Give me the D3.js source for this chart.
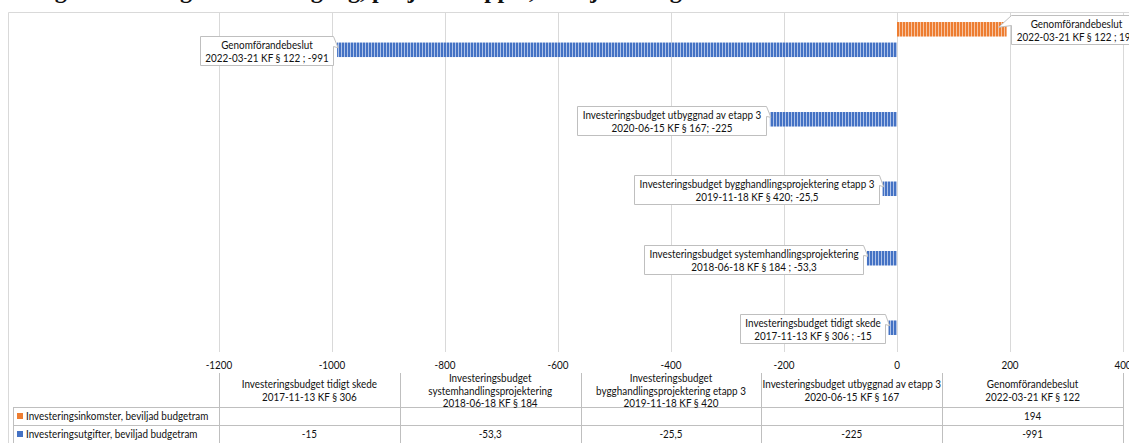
<!DOCTYPE html>
<html><head><meta charset="utf-8">
<script src="https://cdn.jsdelivr.net/npm/d3@7"></script>
<style>
html,body{margin:0;padding:0;background:#fff;}
svg{display:block;}
text{font-family:"Lato","Open Sans",sans-serif;fill:#111;}
</style></head>
<body>
<svg id="chart" width="1129" height="443"></svg>
<script>
// ---- data ----
const categories = ["tidigt", "system", "bygg", "utbyggnad", "genomforande"];
const headerLines = [
  ["Investeringsbudget tidigt skede", "2017-11-13 KF § 306"],
  ["Investeringsbudget", "systemhandlingsprojektering", "2018-06-18 KF § 184"],
  ["Investeringsbudget", "bygghandlingsprojektering etapp 3", "2019-11-18 KF § 420"],
  ["Investeringsbudget utbyggnad av etapp 3", "2020-06-15 KF § 167"],
  ["Genomförandebeslut", "2022-03-21 KF § 122"]
];
const labelNames = [
  "Investeringsbudget tidigt skede",
  "Investeringsbudget systemhandlingsprojektering",
  "Investeringsbudget bygghandlingsprojektering etapp 3",
  "Investeringsbudget utbyggnad av etapp 3",
  "Genomförandebeslut"
];
const labelDates = ["2017-11-13 KF § 306", "2018-06-18 KF § 184", "2019-11-18 KF § 420", "2020-06-15 KF § 167", "2022-03-21 KF § 122"];
const labelSeparators = [" ; ", " ; ", "; ", "; ", " ; "];
const seriesNames = ["Investeringsinkomster, beviljad budgetram", "Investeringsutgifter, beviljad budgetram"];
const inkomster = [null, null, null, null, 194];
const utgifter = [-15, -53.3, -25.5, -225, -991];
const xTicks = [-1200, -1000, -800, -600, -400, -200, 0, 200, 400];
const seriesColors = ["#ED7D31", "#4472C4"];
const seriesLight = ["#f7c3a0", "#aec2e8"];
const titleText = "Budgetutveckling och beslutsgång, projekt etapp 3, beviljad budgetram";

// ---- setup ----
const svg = d3.select("#chart");
const W = 1129, H = 443;
const loc = d3.formatLocale({decimal: ",", thousands: "", grouping: [3], currency: ["", ""], minus: "-"});
const fmt = loc.format("~g");
const FS = 11.5, SX = 0.86;

function addText(g, tx, ty, str, anchor) {
  return g.append("text").attr("transform", `translate(${tx},${ty}) scale(${SX},1)`)
    .attr("text-anchor", anchor || "start").attr("font-size", FS).text(str);
}

const plotTop = 13, plotBottom = 352;
const x = d3.scaleLinear().domain([-1200, 400]).range([219, 1123]);
const y = d3.scaleBand().domain(categories.slice().reverse()).range([5, 352]).paddingInner(0.496).paddingOuter(0.245);
const ySub = d3.scaleBand().domain([0, 1]).range([0, y.bandwidth()]).paddingInner(0.293);

// patterns
const defs = svg.append("defs");
seriesColors.forEach((c, i) => {
  const p = defs.append("pattern").attr("id", "pat" + i).attr("patternUnits", "userSpaceOnUse")
    .attr("width", 3).attr("height", 4);
  p.append("rect").attr("width", 3).attr("height", 4).attr("fill", c);
  p.append("rect").attr("x", 2).attr("width", 1).attr("height", 4).attr("fill", seriesLight[i]);
});

// title (cut off at top in the reference)
svg.append("text").attr("x", 12).attr("y", -2).attr("font-size", 24).attr("font-weight", "bold")
  .style("font-family", "Liberation Serif, serif").text(titleText);

// chart frame
svg.append("path").attr("d", `M8.5,${H} V12.5 H${W}`).attr("fill", "none").attr("stroke", "#d9d9d9");

// gridlines
svg.append("g").selectAll("line").data(xTicks).join("line")
  .attr("x1", d => Math.round(x(d)) + 0.5).attr("x2", d => Math.round(x(d)) + 0.5)
  .attr("y1", plotTop).attr("y2", plotBottom).attr("stroke", "#d9d9d9");

// tick labels
const tickG = svg.append("g");
xTicks.forEach(d => addText(tickG, x(d), 369, fmt(d), "middle"));

// bars
const series = [inkomster, utgifter];
const barData = [];
series.forEach((vals, si) => vals.forEach((v, ci) => {
  if (v === null) return;
  barData.push({si, ci, v, cat: categories[ci]});
}));
svg.append("g").selectAll("rect").data(barData).join("rect")
  .attr("x", d => x(Math.min(0, d.v))).attr("width", d => Math.abs(x(d.v) - x(0)))
  .attr("y", d => y(d.cat) + ySub(d.si)).attr("height", ySub.bandwidth())
  .attr("fill", d => `url(#pat${d.si})`);

// callout labels
const lg = svg.append("g");
barData.forEach(d => {
  const xe = x(d.v);
  const yc = y(d.cat) + ySub(d.si) + ySub.bandwidth() / 2;
  const g = lg.append("g");
  const path = g.append("path").attr("fill", "#fff").attr("stroke", "#bfbfbf");
  const s1 = labelNames[d.ci];
  const s2 = labelDates[d.ci] + labelSeparators[d.ci] + fmt(d.v);
  const probe1 = addText(g, 0, 0, s1, "middle"), probe2 = addText(g, 0, 0, s2, "middle");
  const tw = Math.max(probe1.node().getComputedTextLength(), probe2.node().getComputedTextLength()) * SX;
  probe1.remove(); probe2.remove();
  const bw = Math.round(tw + 10), bh = 29;
  const top = Math.round(yc - bh / 2 + (d.si === 1 ? 1 : 0)) + 0.5;
  let left, right;
  if (d.v < 0) {
    right = Math.round(xe - 4) + 0.5; left = right - bw;
    path.attr("d", `M${left},${top} H${right} L${xe + 1},${yc - 2} L${right},${top + 10} V${top + bh} H${left} Z`);
  } else {
    left = Math.round(xe + 4) + 0.5; right = left + bw;
    path.attr("d", `M${left},${top} H${right} V${top + bh} H${left} V${top + 10} L${xe - 8},${yc - 2} Z`);
  }
  const cx = (left + right) / 2;
  addText(g, cx, top + 12, s1, "middle");
  addText(g, cx, top + 25, s2, "middle");
});

// data table
const tx = d3.scaleBand().domain(categories).range([219, 1123]);
const hTop = 373, r1 = 407, r2 = 425, r3 = 443;
const tg = svg.append("g");
const gridStroke = "#bfbfbf";
[r1, r2, r3].forEach(yy => tg.append("line").attr("x1", 13).attr("x2", 1123).attr("y1", yy + 0.5).attr("y2", yy + 0.5).attr("stroke", gridStroke));
const colEdges = categories.map(c => tx(c)).concat([tx.range()[1]]);
tg.selectAll("line.v").data(colEdges).join("line").attr("class", "v")
  .attr("x1", d => Math.round(d) + 0.5).attr("x2", d => Math.round(d) + 0.5)
  .attr("y1", hTop).attr("y2", r3).attr("stroke", gridStroke);
tg.append("line").attr("x1", 13.5).attr("x2", 13.5).attr("y1", r1).attr("y2", r3).attr("stroke", gridStroke);

// header text
categories.forEach((c, i) => {
  const lines = headerLines[i];
  const cx = tx(c) + tx.bandwidth() / 2;
  const mid = (hTop + r1) / 2;
  const lh = 12.8;
  lines.forEach((t, k) => addText(tg, cx, mid + (k - (lines.length - 1) / 2) * lh + 4.5, t, "middle"));
});
// rows
[[inkomster, r1, r2], [utgifter, r2, r3]].forEach(([vals, a, b], si) => {
  const ym = (a + b) / 2 + 4;
  tg.append("rect").attr("x", 17).attr("y", (a + b) / 2 - 3).attr("width", 6).attr("height", 6).attr("fill", seriesColors[si]);
  addText(tg, 26, ym, seriesNames[si], "start");
  vals.forEach((v, ci) => {
    if (v === null) return;
    addText(tg, tx(categories[ci]) + tx.bandwidth() / 2, ym, fmt(v), "middle");
  });
});
</script>
</body></html>
